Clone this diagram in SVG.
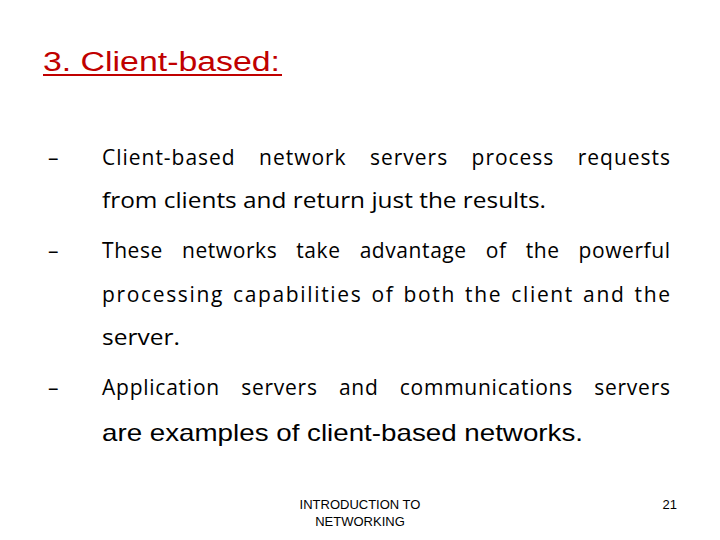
<svg xmlns="http://www.w3.org/2000/svg" width="720" height="540" viewBox="0 0 720 540">
<style>
.b{font-family:"Open Sans",Lato,sans-serif;font-size:21px;fill:#000}
.a{font-family:"Liberation Sans",Arial,sans-serif;fill:#000}
</style>
<rect width="720" height="540" fill="#fff"/>
<g id="title">
<text x="43" y="71" class="a" style="font-size:27px;fill:#C00000" textLength="237" lengthAdjust="spacingAndGlyphs">3. Client-based:</text>
<line x1="43" y1="75" x2="282" y2="75" stroke="#C00000" stroke-width="2"/>
</g>
<g id="body" class="b">
<text x="48" y="165">–</text>
<text x="102" y="165" word-spacing="17" textLength="568" lengthAdjust="spacing">Client-based network servers process requests</text>
<text x="102" y="208" textLength="444" lengthAdjust="spacingAndGlyphs">from clients and return just the results.</text>
<text x="48" y="258">–</text>
<text x="102" y="258" word-spacing="13" textLength="568" lengthAdjust="spacing">These networks take advantage of the powerful</text>
<text x="102" y="302" word-spacing="2" textLength="568" lengthAdjust="spacing">processing capabilities of both the client and the</text>
<text x="102" y="345" textLength="78" lengthAdjust="spacingAndGlyphs">server.</text>
<text x="48" y="395">–</text>
<text x="102" y="395" word-spacing="15" textLength="568" lengthAdjust="spacing">Application servers and communications servers</text>
<text x="102" y="441" class="a" style="font-size:24px" textLength="481" lengthAdjust="spacingAndGlyphs">are examples of client-based networks.</text>
</g>
<g id="footer">
<text x="360" y="509" class="a" style="font-size:13px" text-anchor="middle">INTRODUCTION TO</text>
<text x="360" y="526" class="a" style="font-size:13px" text-anchor="middle">NETWORKING</text>
<text x="677" y="509" class="a" style="font-size:13px" text-anchor="end">21</text>
</g>
</svg>
